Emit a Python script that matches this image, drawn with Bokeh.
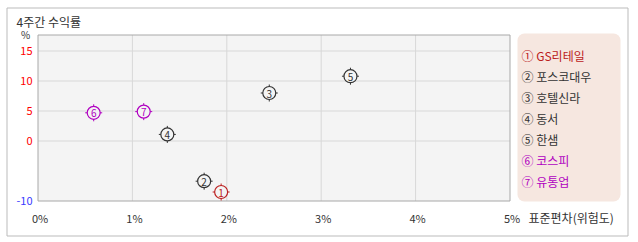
from bokeh.plotting import figure
from bokeh.models import Range1d
from bokeh.core.properties import value
from bokeh.embed import file_html
from bokeh.resources import INLINE

# 4-week return vs. volatility (standard deviation)
names = ["GS리테일", "포스코대우", "호텔신라", "동서", "한샘", "코스피", "유통업"]
marks = ["①", "②", "③", "④", "⑤", "⑥", "⑦"]
digits = ["1", "2", "3", "4", "5", "6", "7"]
risk = [1.94, 1.76, 2.45, 1.37, 3.31, 0.59, 1.12]      # std. dev, %
ret = [-8.5, -6.7, 8.0, 1.1, 10.8, 4.7, 4.9]           # 4-week return, %
colors = ["#bb2020", "#333333", "#333333", "#333333", "#333333", "#b000c0", "#b000c0"]

x_ticks = [0, 1, 2, 3, 4, 5]
x_tick_labels = ["0%", "1%", "2%", "3%", "4%", "5%"]
x_grid = [1, 2, 3, 4]
y_ticks = [-10, 0, 5, 10, 15]
y_tick_labels = ["-10", "0", "5", "10", "15"]
y_tick_colors = ["#3a3aff", "#ff0000", "#ff0000", "#ff0000", "#ff0000"]
y_grid = [0, 5, 10, 15]

FONT = "Noto Sans CJK KR"
W, H = 638, 242
XR = (0, 5)
YR = (-10, 17.67)
# plot area inside the canvas (pixels)
PX0, PX1, PY0, PY1 = 37.5, 509.5, 34.5, 200.5

sx = (PX1 - PX0) / (XR[1] - XR[0])
sy = (PY1 - PY0) / (YR[1] - YR[0])
x_range = Range1d(XR[0] - PX0 / sx, XR[1] + (W - PX1) / sx)
y_range = Range1d(YR[0] - (H - PY1) / sy, YR[1] + PY0 / sy)

p = figure(width=W, height=H, x_range=x_range, y_range=y_range,
           output_backend="svg", toolbar_location=None,
           min_border=0, outline_line_color=None)
p.axis.visible = False
p.grid.visible = False
p.background_fill_color = "white"
p.border_fill_color = "white"
# canvas-pixel coordinates for the surrounding decoration
p.extra_x_ranges = {"cx": Range1d(0, W)}
p.extra_y_ranges = {"cy": Range1d(H, 0)}

T = dict(text_font=value(FONT), text_baseline="middle")

# outer box
p.quad(left=[6.5], right=[627.5], top=[7.5], bottom=[235.5],
       x_range_name="cx", y_range_name="cy",
       fill_color=None, line_color="#bbbbbb", line_width=1)

# plot area and grid
p.quad(left=[XR[0]], right=[XR[1]], bottom=[YR[0]], top=[YR[1]],
       fill_color="#f4f4f4", line_color=None)
p.segment(x0=x_grid, x1=x_grid, y0=[YR[0]] * len(x_grid), y1=[YR[1]] * len(x_grid),
          line_color="#d8d8d8", line_width=1)
p.segment(x0=[XR[0]] * len(y_grid), x1=[XR[1]] * len(y_grid), y0=y_grid, y1=y_grid,
          line_color="#d8d8d8", line_width=1)
p.quad(left=[XR[0]], right=[XR[1]], bottom=[YR[0]], top=[YR[1]],
       fill_color=None, line_color="#a8a8a8", line_width=1)

# tick labels
p.text(x=x_ticks, y=[217] * len(x_ticks), text=x_tick_labels, y_range_name="cy",
       text_color="#333333", text_align="center", x_offset=2,
       text_font_size="11px", **T)
p.text(x=[32] * len(y_ticks), y=y_ticks, text=y_tick_labels, x_range_name="cx",
       text_color=y_tick_colors, text_align="right",
       text_font_size="11px", **T)

# points: circled numbers with small tick stubs
p.scatter(risk, ret, marker="cross", size=17, line_color=colors, line_width=1)
p.scatter(risk, ret, marker="circle", size=13, line_color=colors,
          fill_color="#f4f4f4", line_width=1.2)
p.text(risk, ret, text=digits, text_color=colors, text_align="center",
       text_font_size="10px", y_offset=0.5, **T)

# titles
p.text(x=[16], y=[21], text=["4주간 수익률"], x_range_name="cx", y_range_name="cy",
       text_color="#333333", text_font_size="12px", **T)
p.text(x=[25], y=[34], text=["%"], x_range_name="cx", y_range_name="cy",
       text_color="#333333", text_align="center", text_font_size="10px", **T)
p.text(x=[528], y=[217], text=["표준편차(위험도)"], x_range_name="cx",
       y_range_name="cy", text_color="#333333", text_font_size="12px", **T)

# legend panel
p.quad(left=[517], right=[620], top=[33], bottom=[201],
       x_range_name="cx", y_range_name="cy", border_radius=7,
       fill_color="#f6e7e0", line_color=None)
p.text(x=[521] * len(names), y=[55 + 21 * i for i in range(len(names))],
       text=[m + " " + n for m, n in zip(marks, names)],
       x_range_name="cx", y_range_name="cy",
       text_color=colors, text_font_size="12px", **T)

open("out.html", "w").write(file_html(p, INLINE))
